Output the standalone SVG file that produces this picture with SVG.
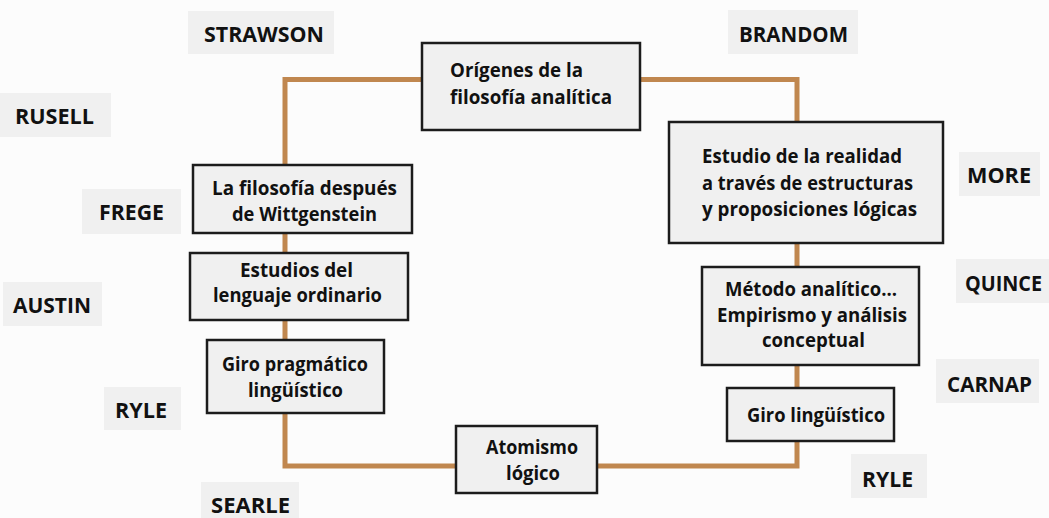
<svg xmlns="http://www.w3.org/2000/svg" width="1049" height="518" viewBox="0 0 1049 518">
<style>
.bg{fill:#fcfcfc}
.lab{fill:#f0f0f0}
.node{fill:#f0f0f0;stroke:#1c1c1c;stroke-width:2.5}
.conn{fill:none;stroke:#c0874f;stroke-width:5;stroke-linejoin:miter}
text{font-family:"Open Sans","Noto Sans","Liberation Sans",sans-serif;font-weight:700;fill:#111}
.ln{font-size:22px}
.nt{font-size:20px}
</style>
<rect class="bg" x="0" y="0" width="1049" height="518"/>
<g id="connectors">
<path class="conn" d="M640,79.5 H797 V122"/>
<path class="conn" d="M797,243 V267"/>
<path class="conn" d="M797,365 V388"/>
<path class="conn" d="M797,441 V466 H597"/>
<path class="conn" d="M456,466 H285 V413"/>
<path class="conn" d="M285,340 V320"/>
<path class="conn" d="M285,253 V233"/>
<path class="conn" d="M285,165 V79.5 H422"/>
</g>
<g id="node-origenes">
<rect class="node" x="422" y="43" width="218" height="87"/>
<text class="nt" x="450" y="77" textLength="133" lengthAdjust="spacingAndGlyphs">Orígenes de la</text>
<text class="nt" x="450" y="104" textLength="162" lengthAdjust="spacingAndGlyphs">filosofía analítica</text>
</g>
<g id="node-estudio-realidad">
<rect class="node" x="669" y="122" width="274" height="121"/>
<text class="nt" x="702" y="163" textLength="200" lengthAdjust="spacingAndGlyphs">Estudio de la realidad</text>
<text class="nt" x="702" y="190" textLength="211" lengthAdjust="spacingAndGlyphs">a través de estructuras</text>
<text class="nt" x="702" y="216" textLength="215" lengthAdjust="spacingAndGlyphs">y proposiciones lógicas</text>
</g>
<g id="node-metodo">
<rect class="node" x="702" y="267" width="217" height="98"/>
<text class="nt" x="725" y="296" textLength="172" lengthAdjust="spacingAndGlyphs">Método analítico...</text>
<text class="nt" x="717" y="322" textLength="190" lengthAdjust="spacingAndGlyphs">Empirismo y análisis</text>
<text class="nt" x="762" y="347" textLength="103" lengthAdjust="spacingAndGlyphs">conceptual</text>
</g>
<g id="node-giro-linguistico">
<rect class="node" x="727" y="388" width="167" height="53"/>
<text class="nt" x="747" y="422" textLength="138" lengthAdjust="spacingAndGlyphs">Giro lingüístico</text>
</g>
<g id="node-atomismo">
<rect class="node" x="456" y="426" width="141" height="67"/>
<text class="nt" x="486" y="454" textLength="92" lengthAdjust="spacingAndGlyphs">Atomismo</text>
<text class="nt" x="506" y="480" textLength="54" lengthAdjust="spacingAndGlyphs">lógico</text>
</g>
<g id="node-giro-pragmatico">
<rect class="node" x="207" y="340" width="177" height="73"/>
<text class="nt" x="222" y="371" textLength="146" lengthAdjust="spacingAndGlyphs">Giro pragmático</text>
<text class="nt" x="248" y="397" textLength="95" lengthAdjust="spacingAndGlyphs">lingüístico</text>
</g>
<g id="node-lenguaje-ordinario">
<rect class="node" x="190" y="253" width="218" height="67"/>
<text class="nt" x="240" y="277" textLength="113" lengthAdjust="spacingAndGlyphs">Estudios del</text>
<text class="nt" x="213" y="302" textLength="169" lengthAdjust="spacingAndGlyphs">lenguaje ordinario</text>
</g>
<g id="node-wittgenstein">
<rect class="node" x="193" y="165" width="219" height="68"/>
<text class="nt" x="212" y="195" textLength="185" lengthAdjust="spacingAndGlyphs">La filosofía después</text>
<text class="nt" x="232" y="221" textLength="145" lengthAdjust="spacingAndGlyphs">de Wittgenstein</text>
</g>
<g id="label-strawson">
<rect class="lab" x="188" y="11" width="146" height="43"/>
<text class="ln" x="204" y="42" textLength="120" lengthAdjust="spacingAndGlyphs">STRAWSON</text>
</g>
<g id="label-brandom">
<rect class="lab" x="728" y="10" width="130" height="44"/>
<text class="ln" x="739" y="42" textLength="109" lengthAdjust="spacingAndGlyphs">BRANDOM</text>
</g>
<g id="label-rusell">
<rect class="lab" x="0" y="93" width="111" height="44"/>
<text class="ln" x="15" y="124" textLength="79" lengthAdjust="spacingAndGlyphs">RUSELL</text>
</g>
<g id="label-frege">
<rect class="lab" x="82" y="189" width="99" height="45"/>
<text class="ln" x="99" y="220" textLength="65" lengthAdjust="spacingAndGlyphs">FREGE</text>
</g>
<g id="label-austin">
<rect class="lab" x="3" y="282" width="99" height="44"/>
<text class="ln" x="13" y="313" textLength="78" lengthAdjust="spacingAndGlyphs">AUSTIN</text>
</g>
<g id="label-ryle-left">
<rect class="lab" x="104" y="387" width="77" height="43"/>
<text class="ln" x="115" y="418" textLength="52" lengthAdjust="spacingAndGlyphs">RYLE</text>
</g>
<g id="label-searle">
<rect class="lab" x="201" y="482" width="98" height="40"/>
<text class="ln" x="211" y="513" textLength="79" lengthAdjust="spacingAndGlyphs">SEARLE</text>
</g>
<g id="label-more">
<rect class="lab" x="959" y="152" width="81" height="44"/>
<text class="ln" x="967" y="183" textLength="64" lengthAdjust="spacingAndGlyphs">MORE</text>
</g>
<g id="label-quince">
<rect class="lab" x="956" y="259" width="93" height="44"/>
<text class="ln" x="965" y="291" textLength="77" lengthAdjust="spacingAndGlyphs">QUINCE</text>
</g>
<g id="label-carnap">
<rect class="lab" x="936" y="359" width="103" height="44"/>
<text class="ln" x="947" y="392" textLength="85" lengthAdjust="spacingAndGlyphs">CARNAP</text>
</g>
<g id="label-ryle-right">
<rect class="lab" x="851" y="454" width="76" height="44"/>
<text class="ln" x="862" y="487" textLength="51" lengthAdjust="spacingAndGlyphs">RYLE</text>
</g>
</svg>
